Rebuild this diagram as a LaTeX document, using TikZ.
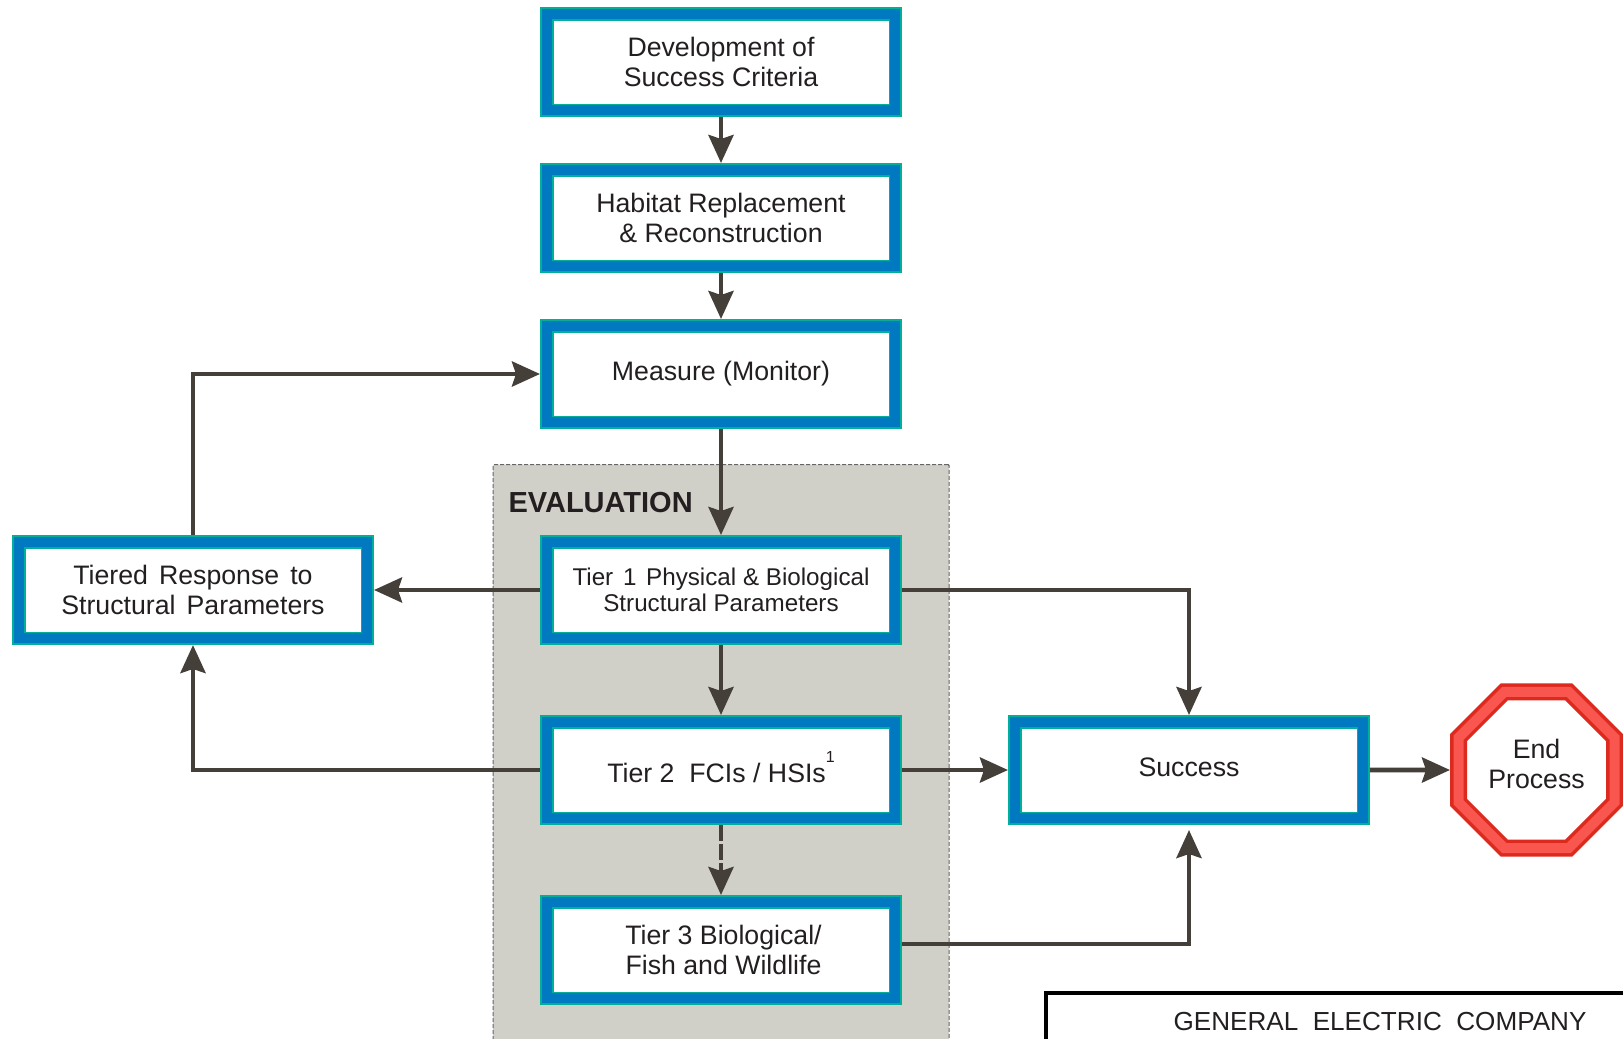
\documentclass[tikz,border=0pt]{standalone}
\usepackage{fontspec}
\usepackage{xcolor}
\setmainfont{Liberation Sans}
\usetikzlibrary{arrows.meta, positioning, calc, shapes.geometric}
\definecolor{bandteal}{HTML}{00B09B}
\definecolor{bandblue}{HTML}{0079C0}
\definecolor{stopdark}{HTML}{DC2A1E}
\definecolor{stoplight}{HTML}{F9564F}
\definecolor{arrowgray}{HTML}{453F3A}
\definecolor{panelgray}{HTML}{D0D0C8}
\definecolor{inkblack}{HTML}{231F20}

\begin{document}
\begin{tikzpicture}[
    x=1pt, y=1pt,
    >={Stealth[length=28pt, width=25pt, inset=4pt]},
    node distance=46pt, % gap between the boxes of the main column
    every node/.style={text=inkblack, font={\fontsize{26.7}{30}\selectfont}, align=center},
    flowbox/.style={rectangle, draw=bandteal, fill=white, line width=1.8pt, double=bandblue, double distance=9.9pt,
      minimum width=348.5pt, minimum height=96.5pt, outer sep=6.75pt, inner sep=0pt},
    smalltext/.style={font={\fontsize{24.2}{26}\selectfont}},
    stopsign/.style={regular polygon, regular polygon sides=8, draw=stopdark, fill=white,
      line width=3.5pt, double=stoplight, double distance=10pt, minimum size=168.9pt, outer sep=8.5pt, inner sep=0pt},
    flowline/.style={->, draw=arrowgray, line width=4.6pt}
  ]

  \clip (0,0) rectangle (1623,-1039);

  % panel behind the tiers, runs off the page
  \node[rectangle, draw=gray!80!black, fill=panelgray, dash pattern=on 4pt off 2pt, line width=1.2pt, rounded corners=1pt, anchor=north west,
    minimum width=456pt, minimum height=600pt] (panel) at (492.5,-464) {};
  \node[anchor=west, font={\fontsize{29}{32}\selectfont\bfseries}] (evaltitle) at (505,-502.5) {EVALUATION};

  \node[flowbox] (criteria) at (721,-62) {Development of\\Success Criteria};
  \node[flowbox, below=of criteria] (habitat) {Habitat Replacement\\\& Reconstruction};
  \node[flowbox, below=of habitat] (measure) {\raisebox{3pt}{Measure (Monitor)}};
  \node[flowbox, smalltext, below=106pt of measure] (tierone) {Tier \hspace{3pt}1 \hspace{3pt}Physical \& Biological\\Structural Parameters};
  \node[flowbox, below=70pt of tierone] (tiertwo) {\rule{0pt}{25pt}Tier 2\ \ FCIs / HSIs\smash{\raisebox{20pt}{\fontsize{16}{16}\selectfont 1}}};
  \node[flowbox, below=70pt of tiertwo] (tierthree) {\hspace{5pt}Tier 3 Biological/\\\hspace{5pt}Fish and Wildlife};
  \node[flowbox, left=166pt of tierone] (tiered) {Tiered \hspace{3.6pt}Response \hspace{3.6pt}to\\Structural \hspace{3.6pt}Parameters};
  \node[flowbox, right=106pt of tiertwo] (success) {\raisebox{5pt}{Success}};
  \node[stopsign, right=80pt of success] (endproc) {End\\Process\\[-17pt]\mbox{}};
  \coordinate[below=5pt of success] (successin);

  \node[rectangle, draw=black, fill=white, line width=3.5pt, anchor=north west,
    minimum width=700pt, minimum height=200pt] (gebox) at (1044,-991) {};
  \node[anchor=base, font={\fontsize{26.1}{30}\selectfont}] (gename) at (1380,-1030) {GENERAL\ \ ELECTRIC\ \ COMPANY};

  \draw[flowline] (criteria) -- (habitat);
  \draw[flowline] (habitat) -- (measure);
  \draw[flowline] (measure) -- (tierone);
  \draw[flowline] (tierone) -- (tiertwo);
  \draw[flowline, dash pattern=on 16pt off 3pt] (tiertwo) -- (tierthree);
  \draw[flowline] (tierone) -- (tiered);
  \draw[flowline] (tiertwo) -| (tiered);
  \draw[flowline] (tiered) |- (measure);
  \draw[flowline] (tierone) -| (success);
  \draw[flowline] (tiertwo) -- (success);
  \draw[flowline] ([yshift=6pt]tierthree.east) -| (successin);
  \draw[flowline] (success) -- (endproc);

\end{tikzpicture}
\end{document}
